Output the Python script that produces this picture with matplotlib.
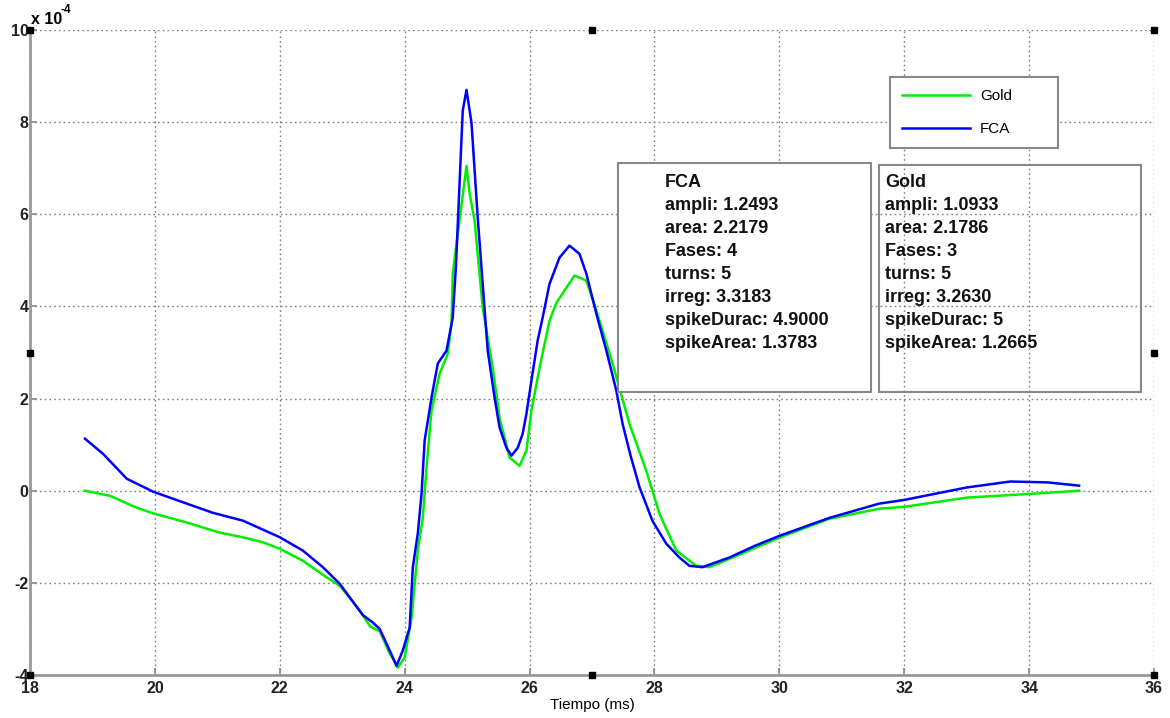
import matplotlib
matplotlib.use('Agg')
import matplotlib.pyplot as plt
from matplotlib.patches import Rectangle

plt.rcParams['font.family'] = ['Liberation Sans', 'DejaVu Sans']

# datos (y en unidades de 1e-4)
t_fca = [18.88, 19.17, 19.55, 19.97, 20.51, 20.93, 21.41, 22.0, 22.37, 22.69, 22.96,
         23.33, 23.49, 23.6, 23.71, 23.87, 23.97, 24.08, 24.13, 24.21, 24.27, 24.32,
         24.43, 24.53, 24.67, 24.77, 24.82, 24.93, 24.99, 25.07, 25.17, 25.27, 25.33,
         25.44, 25.52, 25.63, 25.71, 25.81, 25.89, 25.95, 26.03, 26.13, 26.21, 26.32,
         26.48, 26.64, 26.8, 26.91, 27.07, 27.23, 27.39, 27.49, 27.62, 27.76, 27.97,
         28.19, 28.4, 28.56, 28.77, 29.2, 29.6, 30.0, 30.8, 31.6, 32.0, 33.0, 33.7,
         34.3, 34.8]
v_fca = [1.13, 0.80, 0.26, -0.02, -0.28, -0.48, -0.65, -1.01, -1.30, -1.66, -2.02,
         -2.70, -2.86, -3.0, -3.32, -3.80, -3.47, -2.97, -1.67, -0.93, -0.07, 1.09,
         2.02, 2.76, 3.04, 3.76, 4.84, 8.25, 8.70, 7.99, 5.93, 4.12, 3.04,
         2.02, 1.37, 0.93, 0.76, 0.93, 1.24, 1.67, 2.39, 3.26, 3.76, 4.49,
         5.06, 5.32, 5.14, 4.71, 3.84, 3.04, 2.17, 1.45, 0.75, 0.08, -0.66,
         -1.15, -1.45, -1.63, -1.66, -1.45, -1.2, -0.98, -0.59, -0.28, -0.2, 0.07, 0.2,
         0.18, 0.11]

t_gold = [18.88, 19.28, 19.71, 19.97, 20.51, 21.04, 21.41, 21.73, 22.0, 22.37, 22.75,
          22.96, 23.28, 23.45, 23.6, 23.75, 23.89, 24.0, 24.11, 24.21, 24.29, 24.35,
          24.43, 24.56, 24.69, 24.75, 24.77, 24.99, 25.04, 25.12, 25.25, 25.41, 25.52,
          25.68, 25.84, 25.95, 26.03, 26.16, 26.32, 26.43, 26.72, 26.91, 27.07, 27.33,
          27.6, 27.87, 28.08, 28.35, 28.67, 28.88, 29.2, 30.0, 30.8, 31.6, 32.0, 33.0,
          34.0, 34.8]
v_gold = [0.0, -0.11, -0.37, -0.49, -0.69, -0.91, -1.01, -1.12, -1.26, -1.52, -1.88,
          -2.06, -2.60, -2.95, -3.05, -3.5, -3.84, -3.62, -2.76, -1.30, -0.59, 0.50,
          1.74, 2.54, 2.97, 3.62, 4.71, 7.05, 6.45, 5.86, 3.97, 2.67, 1.58,
          0.72, 0.54, 0.87, 1.74, 2.67, 3.69, 4.08, 4.67, 4.56, 3.91, 2.76,
          1.45, 0.43, -0.50, -1.30, -1.63, -1.66, -1.48, -1.02, -0.61, -0.39, -0.35, -0.15,
          -0.07, 0.0]

fca_txt = ['FCA', 'ampli: 1.2493', 'area: 2.2179', 'Fases: 4', 'turns: 5',
           'irreg: 3.3183', 'spikeDurac: 4.9000', 'spikeArea: 1.3783']
gold_txt = ['Gold', 'ampli: 1.0933', 'area: 2.1786', 'Fases: 3', 'turns: 5',
            'irreg: 3.2630', 'spikeDurac: 5', 'spikeArea: 1.2665']

xticks = [18, 20, 22, 24, 26, 28, 30, 32, 34, 36]
yticks = [-4, -2, 0, 2, 4, 6, 8, 10]

fig = plt.figure(figsize=(11.7, 7.18), dpi=100)
ax = fig.add_axes([30/1170, 1-675/718, 1124/1170, 645/718])

ax.plot(t_gold, v_gold, color='#00ee00', lw=1.8, label='Gold')
ax.plot(t_fca, v_fca, color='#0000ff', lw=1.8, label='FCA')

ax.set_xlim(18, 36)
ax.set_ylim(-4, 10)
ax.set_xticks(xticks)
ax.set_yticks(yticks)
ax.set_xticklabels([str(v) for v in xticks], fontweight='bold', fontsize=11.5, color='#222222')
ax.set_yticklabels([str(v) for v in yticks], fontweight='bold', fontsize=11.5, color='#222222')
ax.tick_params(direction='in', length=5, color='#888888', width=1.2)
ax.tick_params(axis='y', pad=1)
ax.tick_params(axis='x', pad=4)
ax.grid(True, linestyle=(0, (1.2, 2.2)), color='#808080', lw=1.0)
for s in ['top', 'right']:
    ax.spines[s].set_visible(False)
for s in ['left', 'bottom']:
    ax.spines[s].set_color('#999999')
    ax.spines[s].set_linewidth(2)

ax.set_xlabel('Tiempo (ms)', fontsize=11, labelpad=2)

# factor de escala
ax.text(0.001, 1.004, 'x 10', transform=ax.transAxes, fontsize=11.5, fontweight='bold', va='bottom')
ax.text(0.0275, 1.022, '-4', transform=ax.transAxes, fontsize=8.5, fontweight='bold', va='bottom')

# leyenda
leg = ax.legend(loc='center', bbox_to_anchor=(0.765, 0.814, 0.150, 0.116), mode='expand',
                fontsize=11, handlelength=4.45, handletextpad=0.65, labelspacing=1.25,
                borderpad=0.8, fancybox=False, framealpha=1, edgecolor='#888888',
                borderaxespad=0)
leg.get_frame().set_linewidth(1.5)

# cajas de texto
ax.add_patch(Rectangle((0.523, 0.439), 0.225, 0.355, transform=ax.transAxes,
                       fill=True, facecolor='white', edgecolor='#888888', lw=1.5, zorder=4))
ax.add_patch(Rectangle((0.755, 0.439), 0.233, 0.352, transform=ax.transAxes,
                       fill=False, edgecolor='#888888', lw=1.5, zorder=4))
for i in range(len(fca_txt)):
    y = 0.764 - i * 23 / 645
    ax.text(0.565, y, fca_txt[i], transform=ax.transAxes, fontsize=13,
            fontweight='bold', va='center', color='#111111', zorder=5)
    ax.text(0.761, y, gold_txt[i], transform=ax.transAxes, fontsize=13,
            fontweight='bold', va='center', color='#111111', zorder=5)

# marcadores de seleccion (estilo MATLAB)
hx = [0, 0.5, 1, 0, 1, 0, 0.5, 1]
hy = [0, 0, 0, 0.5, 0.5, 1, 1, 1]
ax.plot(hx, hy, 's', ms=5, color='black', transform=ax.transAxes, clip_on=False, zorder=6)

plt.savefig('out.png', dpi=100)
